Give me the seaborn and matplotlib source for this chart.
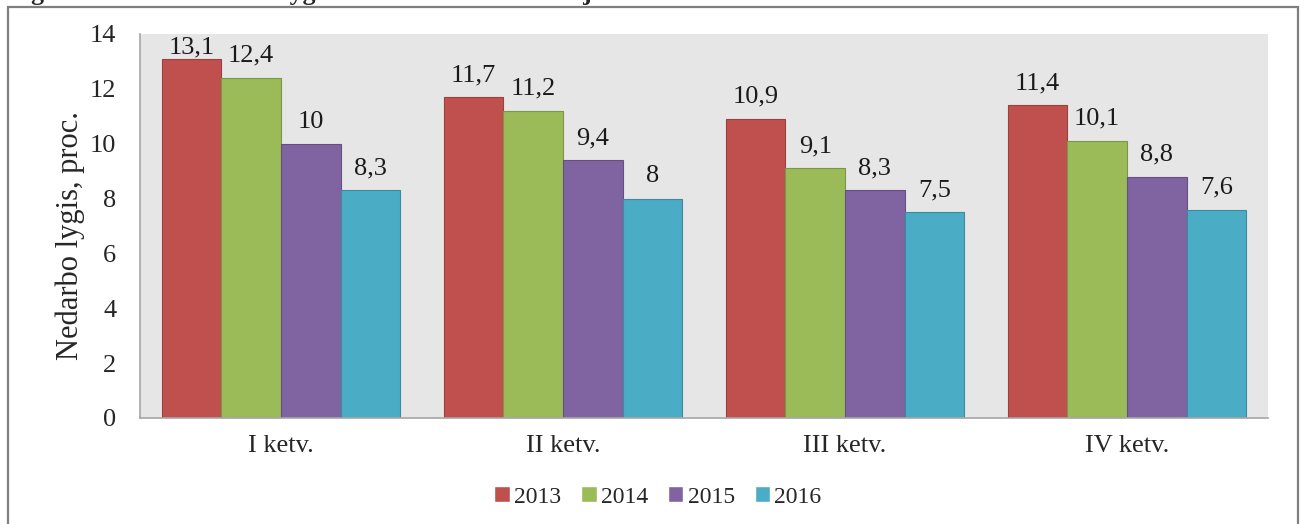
import matplotlib
matplotlib.use("Agg")
import matplotlib.pyplot as plt
import matplotlib.patches as mpatches
import matplotlib.colors as mcolors
import seaborn as sns
import pandas as pd

# data
quarters = ["I ketv.", "II ketv.", "III ketv.", "IV ketv."]
years = ["2013", "2014", "2015", "2016"]
v2013 = [13.1, 11.7, 10.9, 11.4]
v2014 = [12.4, 11.2, 9.1, 10.1]
v2015 = [10.0, 9.4, 8.3, 8.8]
v2016 = [8.3, 8.0, 7.5, 7.6]
yticks = [0, 2, 4, 6, 8, 10, 12, 14]
colors = ["#C0504D", "#9BBB59", "#8064A2", "#4BACC6"]

rows = []
for yr, vals in zip(years, [v2013, v2014, v2015, v2016]):
    for q, v in zip(quarters, vals):
        rows.append({"ketv": q, "metai": yr, "lygis": v})
df = pd.DataFrame(rows)

sns.set_style("white")
plt.rcParams["font.family"] = ["Liberation Serif", "DejaVu Serif"]

W, H = 1307, 524
ax_top, ax_bot = 34, 418
fig = plt.figure(figsize=(W / 100, H / 100), dpi=100)
ax = fig.add_axes([140 / W, 1 - ax_bot / H, (1268 - 140) / W, (ax_bot - ax_top) / H])

sns.barplot(data=df, x="ketv", y="lygis", hue="metai", order=quarters,
            hue_order=years, palette=colors, width=0.845, gap=0,
            saturation=1, errorbar=None, ax=ax)

ymax = 14
px_per_unit = (ax_bot - ax_top) / ymax
for cont, c in zip(ax.containers, colors):
    dark = tuple(x * 0.8 for x in mcolors.to_rgb(c))
    for bar in cont:
        bar.set_edgecolor(dark)
        bar.set_linewidth(0.8)
        h = bar.get_height()
        # keep the label inside the plot area, like Excel does
        pad = min(8, max(0.5, ((ymax - h) * px_per_unit - 24) * 0.72))
        ax.annotate(("%g" % h).replace(".", ","), (bar.get_x() + bar.get_width() / 2, h),
                    xytext=(0, pad), textcoords="offset points", ha="center", va="bottom",
                    fontsize=19, color="#1a1a1a")

ax.set_facecolor("#E6E6E6")
ax.set_ylim(0, ymax)
ax.set_yticks(yticks)
ax.set_yticklabels([str(t) for t in yticks])
ax.set_xlabel("")
ax.set_ylabel("Nedarbo lygis, proc.", fontsize=22)
ax.yaxis.set_label_coords(-0.049, 0.475)
ax.tick_params(axis="y", length=0, pad=17, labelsize=19)
ax.tick_params(axis="x", length=0, pad=12, labelsize=19)
for s in ["top", "right"]:
    ax.spines[s].set_visible(False)
for s in ["left", "bottom"]:
    ax.spines[s].set_color("#A6A6A6")
    ax.spines[s].set_linewidth(1.2)

handles, labels = ax.get_legend_handles_labels()
ax.legend_.remove()
fig.legend(handles, labels, loc="center", bbox_to_anchor=(658 / W, 1 - 497 / H),
           ncol=4, frameon=False, fontsize=17, handlelength=0.65, handleheight=0.65,
           handletextpad=0.18, columnspacing=0.85)

# outer frame and the cut-off caption above it
fig.patches.append(mpatches.Rectangle((8 / W, -0.05), (1298 - 8) / W, 1.05 - 7 / H,
                                      transform=fig.transFigure, fill=False,
                                      edgecolor="#7F7F7F", linewidth=1.6))
fig.text(8 / W, 1.0, "Figure 2. Šalies nedarbo lygis 2013–2016 m. Lietuvoje",
         fontsize=18.7, fontweight="bold", va="baseline", ha="left")

plt.savefig("out.png", dpi=100)
